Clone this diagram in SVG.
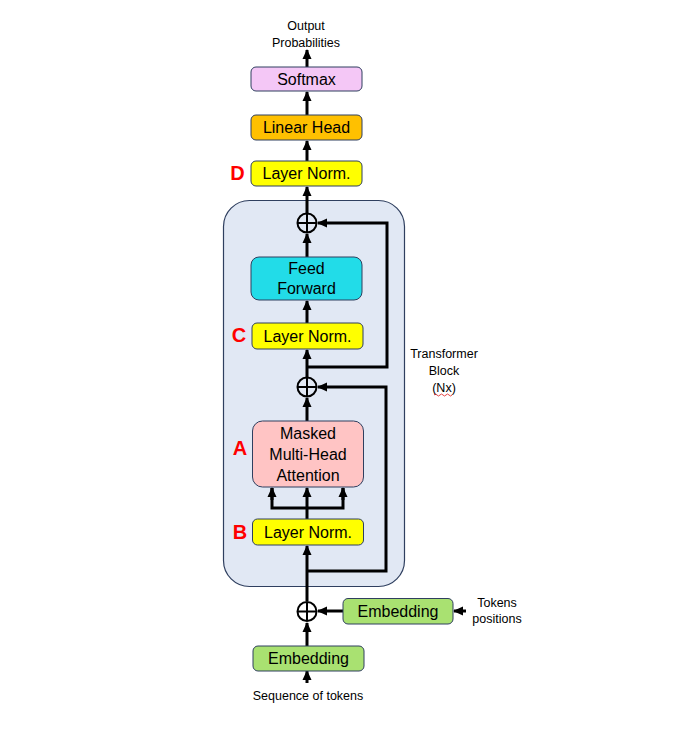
<svg xmlns="http://www.w3.org/2000/svg" width="688" height="735" viewBox="0 0 688 735">
<style>
.box{stroke:#2f3f5f;stroke-width:1}
.t{font-family:"Liberation Sans",Arial,sans-serif;font-size:16px;fill:#000;text-anchor:middle}
.s{font-family:"Liberation Sans",Arial,sans-serif;font-size:12.5px;fill:#000;text-anchor:middle}
.lab{font-family:"Liberation Sans",Arial,sans-serif;font-size:20px;font-weight:bold;fill:#ff0000;text-anchor:middle}
.ln{stroke:#000;stroke-width:3;fill:none}
.sum{stroke:#000;stroke-width:2;fill:none}
</style>
<defs>
<marker id="ah" markerUnits="userSpaceOnUse" markerWidth="10" markerHeight="10" viewBox="0 0 10 10" refX="9" refY="5" orient="auto">
<path d="M0,0.5 L10,5 L0,9.5 Z" fill="#000"/>
</marker>
</defs>
<rect width="688" height="735" fill="#fff"/>
<g id="block">
<rect x="223.5" y="200.5" width="181" height="386" rx="26" fill="#e1e8f4" stroke="#2f3f5f" stroke-width="1.2"/>
<text class="s" x="444" y="358">Transformer</text>
<text class="s" x="444" y="375">Block</text>
<text class="s" x="444" y="392">(Nx)</text>
<path d="M434,395 q1.5,-2 3,0 t3,0 t3,0 t3,0 t3,0 t3,0" stroke="#e03030" stroke-width="0.9" fill="none"/>
</g>
<g id="connectors">
<line class="ln" x1="307" y1="67" x2="307" y2="50" marker-end="url(#ah)"/>
<line class="ln" x1="307" y1="115" x2="307" y2="92" marker-end="url(#ah)"/>
<line class="ln" x1="307" y1="161" x2="307" y2="141" marker-end="url(#ah)"/>
<line class="ln" x1="307" y1="213" x2="307" y2="187" marker-end="url(#ah)"/>
<line class="ln" x1="307" y1="257" x2="307" y2="234" marker-end="url(#ah)"/>
<line class="ln" x1="307" y1="323" x2="307" y2="301" marker-end="url(#ah)"/>
<line class="ln" x1="307" y1="377" x2="307" y2="350" marker-end="url(#ah)"/>
<polyline class="ln" points="307,367 387,367 387,223 318,223" marker-end="url(#ah)"/>
<line class="ln" x1="307" y1="421" x2="307" y2="398" marker-end="url(#ah)"/>
<polyline class="ln" points="307,571 386,571 386,387 318,387" marker-end="url(#ah)"/>
<line class="ln" x1="307" y1="601" x2="307" y2="546" marker-end="url(#ah)"/>
<line class="ln" x1="307" y1="519" x2="307" y2="488" marker-end="url(#ah)"/>
<polyline class="ln" points="272,488 272,508 343,508 343,488"/>
<line class="ln" x1="272" y1="500" x2="272" y2="488" marker-end="url(#ah)"/>
<line class="ln" x1="343" y1="500" x2="343" y2="488" marker-end="url(#ah)"/>
<line class="ln" x1="307" y1="646" x2="307" y2="623" marker-end="url(#ah)"/>
<line class="ln" x1="343" y1="611" x2="318" y2="611" marker-end="url(#ah)"/>
<line class="ln" x1="466" y1="611" x2="454" y2="611" marker-end="url(#ah)"/>
<line class="ln" x1="307" y1="683" x2="307" y2="671" marker-end="url(#ah)"/>
</g>
<g id="sum1">
<circle class="sum" cx="307" cy="223" r="9.5"/>
<path class="sum" d="M297.5,223 H316.5 M307,213.5 V232.5"/>
</g>
<g id="sum2">
<circle class="sum" cx="307" cy="387" r="9.5"/>
<path class="sum" d="M297.5,387 H316.5 M307,377.5 V396.5"/>
</g>
<g id="sum3">
<circle class="sum" cx="307" cy="611.5" r="9.5"/>
<path class="sum" d="M297.5,611.5 H316.5 M307,602 V621"/>
</g>
<g id="output">
<text class="s" x="306" y="30">Output</text>
<text class="s" x="306" y="47">Probabilities</text>
</g>
<g id="softmax">
<rect class="box" x="251" y="67" width="111" height="24" rx="5" fill="#f4c7f6"/>
<text class="t" x="306.5" y="85">Softmax</text>
</g>
<g id="linearhead">
<rect class="box" x="251" y="115" width="111" height="25" rx="5" fill="#ffc000"/>
<text class="t" x="306.5" y="133">Linear Head</text>
</g>
<g id="layernormD">
<rect class="box" x="251" y="161" width="111" height="25" rx="5" fill="#ffff00"/>
<text class="t" x="306.5" y="179">Layer Norm.</text>
<text class="lab" x="237.5" y="180">D</text>
</g>
<g id="feedforward">
<rect class="box" x="251" y="257" width="111" height="43" rx="8" fill="#22dce8"/>
<text class="t" x="306.5" y="274">Feed</text>
<text class="t" x="306.5" y="294">Forward</text>
</g>
<g id="layernormC">
<rect class="box" x="252" y="323" width="111" height="26" rx="5" fill="#ffff00"/>
<text class="t" x="307.5" y="342">Layer Norm.</text>
<text class="lab" x="239" y="342">C</text>
</g>
<g id="mmha">
<rect class="box" x="252.5" y="421" width="111" height="66" rx="10" fill="#ffc4c4"/>
<text class="t" x="308" y="439">Masked</text>
<text class="t" x="308" y="460">Multi-Head</text>
<text class="t" x="308" y="481">Attention</text>
<text class="lab" x="240" y="455">A</text>
</g>
<g id="layernormB">
<rect class="box" x="252.5" y="519" width="111" height="26" rx="5" fill="#ffff00"/>
<text class="t" x="308" y="538">Layer Norm.</text>
<text class="lab" x="240" y="539">B</text>
</g>
<g id="embpos">
<rect class="box" x="343" y="598.5" width="110" height="25.5" rx="5" fill="#a9e171"/>
<text class="t" x="398" y="617">Embedding</text>
<text class="s" x="497" y="607">Tokens</text>
<text class="s" x="497" y="623">positions</text>
</g>
<g id="embtok">
<rect class="box" x="253" y="646" width="111" height="25" rx="5" fill="#a9e171"/>
<text class="t" x="308.5" y="664">Embedding</text>
<text class="s" x="308" y="700">Sequence of tokens</text>
</g>
</svg>
